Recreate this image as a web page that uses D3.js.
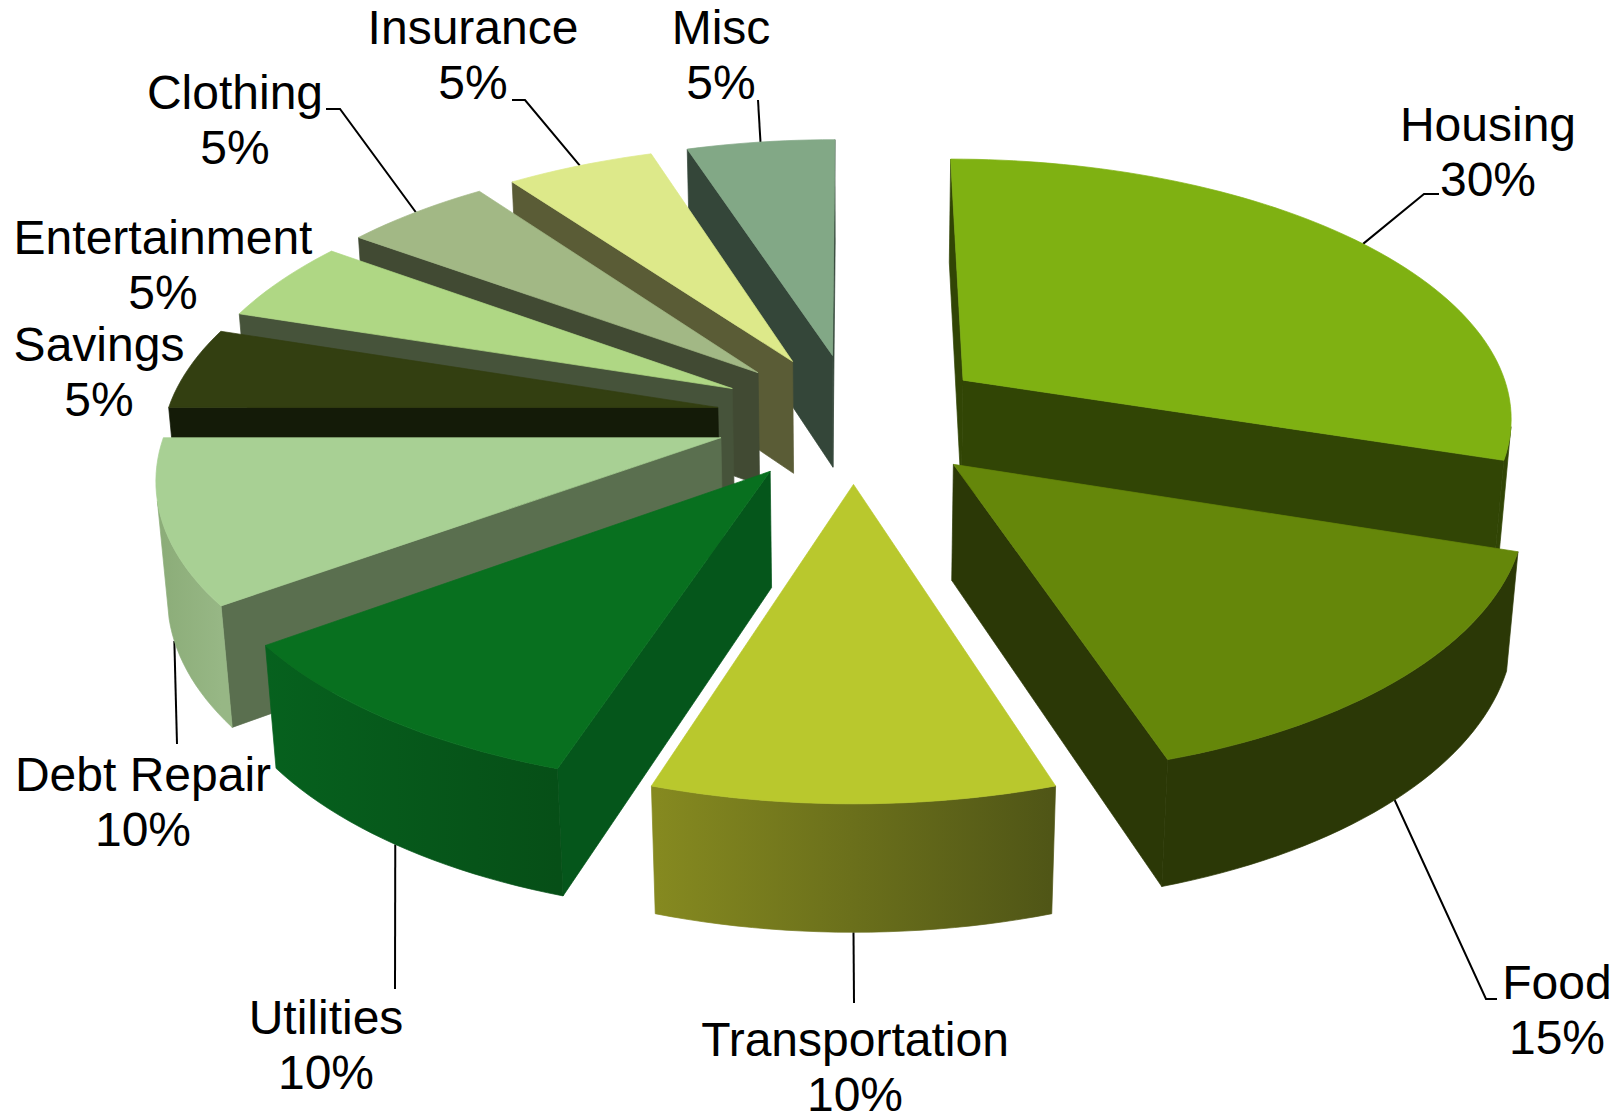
<!DOCTYPE html>
<html>
<head>
<meta charset="utf-8">
<style>
  html, body { margin: 0; padding: 0; background: #fff; }
  text { font-family: "Liberation Sans", Arial, sans-serif; font-size: 48px; fill: #000; text-anchor: middle; }
</style>
<script src="https://cdn.jsdelivr.net/npm/d3@7"></script>
</head>
<body>
<div id="chart"></div>
<script>
const categories = ['Housing', 'Food', 'Transportation', 'Utilities', 'Debt Repair', 'Savings', 'Entertainment', 'Clothing', 'Insurance', 'Misc'];
const shares = [30, 15, 10, 10, 10, 5, 5, 5, 5, 5];

const topColors = ['#7fb112', '#65870a', '#b9c82d', '#08701f', '#a8d094', '#333f11', '#afd784', '#a2b885', '#dde98a', '#82a886'];
const sideColors = ['#314505', '#2b3806', '#4f5516', '#05561b', '#5a6f4f', '#141b08', '#46533a', '#414a33', '#5a5c36', '#344639'];
const rimStartColors = ['#314505', '#2b3806', '#4f5516', '#064f17', '#97b785', '#141b08', '#46533a', '#414a33', '#5a5c36', '#344639'];
const rimEndColors = ['#314505', '#2b3806', '#868a20', '#06611e', '#8cad79', '#141b08', '#46533a', '#414a33', '#5a5c36', '#344639'];

// label centre, first baseline and the leader bend points, in page pixels
const labelX = [1488, 1557, 855, 326, 143, 99, 163, 235, 473, 721];
const labelY = [141, 999, 1056, 1034, 791, 361, 254, 109, 44, 44];
const leaderBends = [
  [[1424, 194], [1439, 194]],
  [[1486, 999], [1497, 999]],
  [[854, 1003]],
  [[395, 989]],
  [[177, 744]],
  [],
  [],
  [[340, 109], [326, 109]],
  [[525, 100], [512, 100]],
  [[758, 100]]
];

const width = 1621;
const height = 1113;
const centerX = 853.5;
const centerY = 417.5;
const radiusPx = 552;
const explode = 0.25;
const thickness = 0.238;
const sinTilt = 0.469;
const cosTilt = Math.sqrt(1 - sinTilt * sinTilt);
const cameraDistance = 6.8;
const rimStep = Math.PI / 120;
const lineGap = 55;

const xScale = d3.scaleLinear().domain([-1, 1]).range([centerX - radiusPx, centerX + radiusPx]);
const yScale = d3.scaleLinear().domain([-1, 1]).range([centerY + radiusPx, centerY - radiusPx]);

// world point (x right, y away from viewer, z up) to page pixels
function project(x, y, z) {
  const w = 1 + (y * cosTilt - z * sinTilt) / cameraDistance;
  return [xScale(x / w), yScale((y * sinTilt + z * cosTilt) / w)];
}

// d3.polygonArea is negative for faces wound clockwise on the page, those face the viewer
function facesViewer(points) {
  return d3.polygonArea(points) < 0;
}

const slices = d3.pie().sort(null).value(d => d.share)(
  categories.map((name, i) => ({ name, share: shares[i], index: i }))
);

const svg = d3.select('#chart').append('svg')
  .attr('width', width)
  .attr('height', height)
  .style('display', 'block');
const defs = svg.append('defs');

const line = d3.line();
const closedPath = points => line(points) + 'Z';

function sliceGeometry(slice) {
  const mid = (slice.startAngle + slice.endAngle) / 2;
  const offX = explode * Math.sin(mid);
  const offY = explode * Math.cos(mid);
  const rimPoint = (angle, z) => project(offX + Math.sin(angle), offY + Math.cos(angle), z);
  const apex = z => project(offX, offY, z);
  return { mid, rimPoint, apex };
}

// leaders go under the slices
const leaders = svg.append('g');
slices.forEach(slice => {
  const i = slice.data.index;
  if (!leaderBends[i].length) return;
  const geo = sliceGeometry(slice);
  const z = Math.cos(geo.mid) < -0.1 ? -thickness : 0;
  leaders.append('path')
    .attr('d', line([geo.rimPoint(geo.mid, z), ...leaderBends[i]]))
    .attr('fill', 'none')
    .attr('stroke', '#000')
    .attr('stroke-width', 2);
});

const drawOrder = slices.slice().sort((a, b) =>
  d3.descending(Math.cos((a.startAngle + a.endAngle) / 2), Math.cos((b.startAngle + b.endAngle) / 2)));

drawOrder.forEach(slice => {
  const i = slice.data.index;
  const geo = sliceGeometry(slice);
  const g = svg.append('g').attr('class', 'slice');

  const drawFace = (points, color) => {
    if (!facesViewer(points)) return;
    g.append('path')
      .attr('d', closedPath(points))
      .attr('fill', color)
      .attr('stroke', color)
      .attr('stroke-width', 0.7);
  };

  const startTop = geo.rimPoint(slice.startAngle, 0);
  const startBottom = geo.rimPoint(slice.startAngle, -thickness);
  const endTop = geo.rimPoint(slice.endAngle, 0);
  const endBottom = geo.rimPoint(slice.endAngle, -thickness);

  drawFace([startTop, geo.apex(0), geo.apex(-thickness), startBottom], sideColors[i]);
  drawFace([geo.apex(0), endTop, endBottom, geo.apex(-thickness)], sideColors[i]);

  const angles = d3.range(slice.startAngle, slice.endAngle, rimStep).concat([slice.endAngle]);

  // outer wall: only the run of angles that turns to the viewer, shaded across the page
  const rimAngles = angles.filter((a, k) => {
    const other = k < angles.length - 1 ? angles[k + 1] : angles[k - 1];
    const pair = k < angles.length - 1 ? [other, a] : [a, other];
    return facesViewer([
      geo.rimPoint(pair[0], 0),
      geo.rimPoint(pair[1], 0),
      geo.rimPoint(pair[1], -thickness),
      geo.rimPoint(pair[0], -thickness)
    ]);
  });
  if (rimAngles.length > 1) {
    const gradientId = `rim-${i}`;
    const gradient = defs.append('linearGradient')
      .attr('id', gradientId)
      .attr('gradientUnits', 'userSpaceOnUse')
      .attr('x1', startTop[0]).attr('y1', 0)
      .attr('x2', endTop[0]).attr('y2', 0);
    gradient.append('stop').attr('offset', 0).attr('stop-color', rimStartColors[i]);
    gradient.append('stop').attr('offset', 1).attr('stop-color', rimEndColors[i]);
    const rimFace = [
      ...rimAngles.map(a => geo.rimPoint(a, 0)),
      ...rimAngles.slice().reverse().map(a => geo.rimPoint(a, -thickness))
    ];
    g.append('path')
      .attr('d', closedPath(rimFace))
      .attr('fill', `url(#${gradientId})`)
      .attr('stroke', `url(#${gradientId})`)
      .attr('stroke-width', 0.7);
  }

  const top = [geo.apex(0), ...angles.map(a => geo.rimPoint(a, 0))];
  g.append('path')
    .attr('d', closedPath(top))
    .attr('fill', topColors[i])
    .attr('stroke', topColors[i])
    .attr('stroke-width', 0.7);
});

const labels = svg.append('g');
slices.forEach(slice => {
  const i = slice.data.index;
  labels.append('text').attr('x', labelX[i]).attr('y', labelY[i]).text(slice.data.name);
  labels.append('text').attr('x', labelX[i]).attr('y', labelY[i] + lineGap).text(`${slice.data.share}%`);
});
</script>
</body>
</html>
